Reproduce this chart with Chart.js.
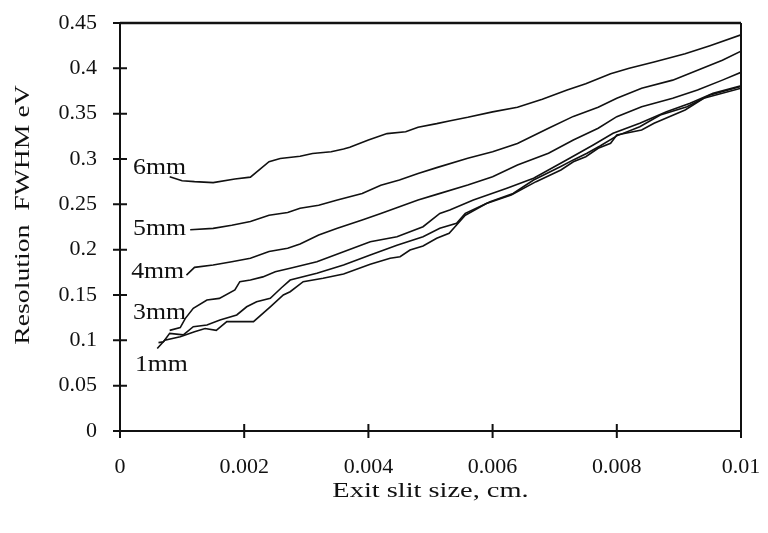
<!DOCTYPE html>
<html>
<head>
<meta charset="utf-8">
<title>Resolution vs exit slit size</title>
<script src="https://cdn.jsdelivr.net/npm/chart.js@4.4.1/dist/chart.umd.min.js"></script>
<style>
  html, body { margin: 0; padding: 0; background: #fff; }
  canvas { display: block; }
  .warm { font-family: "Liberation Serif"; position: absolute; left: -999px; }
</style>
</head>
<body>
<span class="warm">0.45 Exit slit</span>
<canvas id="resChart" width="768" height="533"></canvas>
<script>
// tick values and labels
const xTickValues = [0, 0.002, 0.004, 0.006, 0.008, 0.01];
const xTickLabels = ['0', '0.002', '0.004', '0.006', '0.008', '0.01'];
const yTickValues = [0, 0.05, 0.1, 0.15, 0.2, 0.25, 0.3, 0.35, 0.4, 0.45];
const yTickLabels = ['0', '0.05', '0.1', '0.15', '0.2', '0.25', '0.3', '0.35', '0.4', '0.45'];

// curves (x = exit slit cm, y = FWHM eV)
const x6mm = [0.0008, 0.001, 0.0012, 0.0015, 0.00185, 0.0021, 0.0024, 0.00258, 0.0029, 0.0031, 0.0034, 0.0036, 0.0037, 0.004, 0.0043, 0.0046, 0.0048, 0.0051, 0.0053, 0.0056, 0.006, 0.0064, 0.0068, 0.0072, 0.0075, 0.0079, 0.0082, 0.0086, 0.0091, 0.0095, 0.01];
const y6mm = [0.2805, 0.276, 0.275, 0.274, 0.278, 0.28, 0.297, 0.3005, 0.303, 0.306, 0.308, 0.311, 0.313, 0.321, 0.328, 0.33, 0.335, 0.339, 0.342, 0.346, 0.352, 0.357, 0.366, 0.376, 0.383, 0.394, 0.4, 0.407, 0.416, 0.425, 0.437];

const x5mm = [0.00113, 0.0015, 0.0018, 0.0021, 0.0024, 0.0027, 0.0029, 0.0032, 0.0035, 0.0039, 0.0042, 0.0045, 0.0048, 0.0051, 0.0056, 0.006, 0.0064, 0.0069, 0.0073, 0.0077, 0.008, 0.0084, 0.0089, 0.0093, 0.0097, 0.01];
const y5mm = [0.222, 0.2235, 0.227, 0.231, 0.238, 0.241, 0.2456, 0.249, 0.2548, 0.262, 0.271, 0.2768, 0.284, 0.2905, 0.3008, 0.308, 0.317, 0.334, 0.347, 0.357, 0.367, 0.378, 0.387, 0.398, 0.409, 0.419];

const x4mm = [0.00107, 0.0012, 0.0015, 0.0018, 0.0021, 0.0024, 0.0027, 0.0029, 0.0032, 0.0035, 0.0039, 0.0042, 0.0045, 0.0048, 0.0051, 0.0056, 0.006, 0.0064, 0.0069, 0.0073, 0.0077, 0.008, 0.0084, 0.0089, 0.0093, 0.0097, 0.01];
const y4mm = [0.172, 0.1805, 0.183, 0.1867, 0.1905, 0.198, 0.2015, 0.2062, 0.2162, 0.2235, 0.2327, 0.24, 0.2474, 0.2548, 0.261, 0.2713, 0.2805, 0.2934, 0.3063, 0.321, 0.334, 0.3467, 0.3577, 0.3669, 0.376, 0.387, 0.3956];

const x3mm = [0.0008, 0.00097, 0.00105, 0.00118, 0.0014, 0.0016, 0.00185, 0.00193, 0.0021, 0.0023, 0.0025, 0.00274, 0.00317, 0.0036, 0.00403, 0.00446, 0.00488, 0.00515, 0.00531, 0.00569, 0.00623, 0.00666, 0.00719, 0.00762, 0.00794, 0.00837, 0.0088, 0.00918, 0.00955, 0.01];
const y3mm = [0.111, 0.114, 0.124, 0.1353, 0.1445, 0.1463, 0.1555, 0.1647, 0.1665, 0.17, 0.1757, 0.1794, 0.1867, 0.1978, 0.2088, 0.2143, 0.2253, 0.24, 0.2437, 0.2548, 0.2677, 0.2787, 0.2989, 0.3154, 0.3283, 0.3394, 0.352, 0.3614, 0.3724, 0.3808];

// unlabelled curve between 3mm and 1mm
const x2mm = [0.00062, 0.0007, 0.0008, 0.00102, 0.00118, 0.0014, 0.00161, 0.00188, 0.00204, 0.0022, 0.00242, 0.0026, 0.00274, 0.00317, 0.0036, 0.00403, 0.00446, 0.00488, 0.00515, 0.00542, 0.00556, 0.00596, 0.00633, 0.00666, 0.00709, 0.0073, 0.00752, 0.00773, 0.008, 0.00837, 0.0087, 0.00913, 0.0095, 0.01];
const y2mm = [0.0975, 0.0985, 0.1077, 0.106, 0.115, 0.117, 0.1224, 0.128, 0.137, 0.1426, 0.1463, 0.158, 0.1665, 0.174, 0.183, 0.194, 0.205, 0.2143, 0.2236, 0.229, 0.24, 0.2529, 0.262, 0.2768, 0.2915, 0.299, 0.3063, 0.3143, 0.3255, 0.3356, 0.3485, 0.3577, 0.3706, 0.38];

const x1mm = [0.0006, 0.00072, 0.00097, 0.0012, 0.00137, 0.00155, 0.00172, 0.00215, 0.00242, 0.00263, 0.00274, 0.00295, 0.00327, 0.0036, 0.00403, 0.00435, 0.00451, 0.00467, 0.00488, 0.0051, 0.0053, 0.00542, 0.00556, 0.0059, 0.0063, 0.0067, 0.0071, 0.0073, 0.0075, 0.0077, 0.0079, 0.008, 0.0084, 0.0086, 0.0091, 0.0094, 0.01];
const y1mm = [0.091, 0.1, 0.104, 0.1095, 0.113, 0.111, 0.1206, 0.1206, 0.137, 0.15, 0.1536, 0.1647, 0.1684, 0.1732, 0.1838, 0.1905, 0.1922, 0.1996, 0.204, 0.2125, 0.218, 0.2272, 0.238, 0.251, 0.2603, 0.275, 0.2879, 0.297, 0.3025, 0.3118, 0.3173, 0.3265, 0.332, 0.3394, 0.354, 0.367, 0.378];

// curve names written beside the left ends
const curveNames = ['6mm', '5mm', '4mm', '3mm', '1mm'];
const nameAtX = [0.00021, 0.00021, 0.00018, 0.00021, 0.00024];
const nameAtY = [0.29, 0.2228, 0.1754, 0.13, 0.0728];

const INK = '#111';
const SERIF = '"Liberation Serif", "Times New Roman", Times, serif';

function pts(xs, ys) {
  return xs.map((x, i) => ({ x: x, y: ys[i] }));
}

function lineSet(label, xs, ys) {
  return {
    label: label,
    data: pts(xs, ys),
    borderColor: INK,
    borderWidth: 1.6,
    pointRadius: 0,
    tension: 0,
    fill: false
  };
}

// draws text stretched horizontally like the scanned original
function wideText(ctx, text, x, y, size, stretch, angle, align) {
  ctx.save();
  ctx.translate(x, y);
  if (angle) ctx.rotate(angle);
  ctx.scale(stretch, 1);
  ctx.font = size + 'px ' + SERIF;
  ctx.fillStyle = INK;
  ctx.textAlign = align || 'center';
  ctx.textBaseline = 'middle';
  ctx.fillText(text, 0, 0);
  ctx.restore();
}

// frame, crossing tick marks, titles and curve names
const framePlugin = {
  id: 'frame',
  afterDraw(chart) {
    const ctx = chart.ctx;
    const xs = chart.scales.x;
    const ys = chart.scales.y;
    const a = chart.chartArea;
    ctx.save();
    ctx.strokeStyle = INK;
    ctx.lineCap = 'butt';

    ctx.lineWidth = 2.5;
    ctx.beginPath();
    ctx.moveTo(a.left, a.top);
    ctx.lineTo(a.right, a.top);
    ctx.stroke();

    ctx.lineWidth = 2;
    ctx.beginPath();
    ctx.moveTo(a.left, a.top - 1);
    ctx.lineTo(a.left, a.bottom);
    ctx.lineTo(a.right, a.bottom);
    ctx.moveTo(a.right, a.top);
    ctx.lineTo(a.right, a.bottom);
    ctx.stroke();

    ctx.beginPath();
    yTickValues.forEach(v => {
      const py = ys.getPixelForValue(v);
      ctx.moveTo(a.left - 7, py);
      ctx.lineTo(a.left + 7, py);
    });
    xTickValues.forEach(v => {
      const px = xs.getPixelForValue(v);
      ctx.moveTo(px, a.bottom - 7);
      ctx.lineTo(px, a.bottom + 7);
    });
    ctx.stroke();
    ctx.restore();

    wideText(ctx, 'Exit slit size, cm.', (a.left + a.right) / 2, 491, 22, 1.29, 0);
    wideText(ctx, 'Resolution  FWHM eV', 23, 215, 22, 1.26, -Math.PI / 2);

    curveNames.forEach((name, i) => {
      const px = xs.getPixelForValue(nameAtX[i]);
      const py = ys.getPixelForValue(nameAtY[i]);
      wideText(ctx, name, px, py, 23, 1.12, 0, 'left');
    });
  }
};

function renderChart() {
  const ctx = document.getElementById('resChart').getContext('2d');
  new Chart(ctx, {
    type: 'line',
    data: {
      datasets: [
        lineSet('6mm', x6mm, y6mm),
        lineSet('5mm', x5mm, y5mm),
        lineSet('4mm', x4mm, y4mm),
        lineSet('3mm', x3mm, y3mm),
        lineSet('2mm', x2mm, y2mm),
        lineSet('1mm', x1mm, y1mm)
      ]
    },
    options: {
      responsive: false,
      animation: false,
      layout: { padding: { left: 0, right: 27, top: 23, bottom: 0 } },
      plugins: {
        legend: { display: false },
        tooltip: { enabled: false }
      },
      scales: {
        x: {
          type: 'linear',
          min: 0,
          max: 0.01,
          // fixed band height; drop the label overhang padding so the plot keeps its size
          afterFit: s => { s.height = 102; s.paddingLeft = 0; s.paddingRight = 0; },
          afterBuildTicks: s => { s.ticks = xTickValues.map(v => ({ value: v })); },
          grid: { display: false, drawTicks: false },
          border: { display: false },
          ticks: {
            padding: 23,
            color: INK,
            maxRotation: 0,
            autoSkip: false,
            font: { family: SERIF, size: 22 },
            callback: (v, i) => xTickLabels[i]
          }
        },
        y: {
          type: 'linear',
          min: 0,
          max: 0.45,
          afterFit: s => { s.width = 120; s.paddingTop = 0; s.paddingBottom = 0; },
          afterBuildTicks: s => { s.ticks = yTickValues.map(v => ({ value: v })); },
          grid: { display: false, drawTicks: false },
          border: { display: false },
          ticks: {
            padding: 23,
            color: INK,
            autoSkip: false,
            font: { family: SERIF, size: 22 },
            callback: (v, i) => yTickLabels[i]
          }
        }
      }
    },
    plugins: [framePlugin]
  });
}

// wait for the serif face so the canvas does not fall back to another font
window.onload = function () {
  Promise.all([
    document.fonts.load('22px "Liberation Serif"'),
    document.fonts.load('20px "Liberation Serif"')
  ]).catch(() => null).then(renderChart);
};
</script>
</body>
</html>
